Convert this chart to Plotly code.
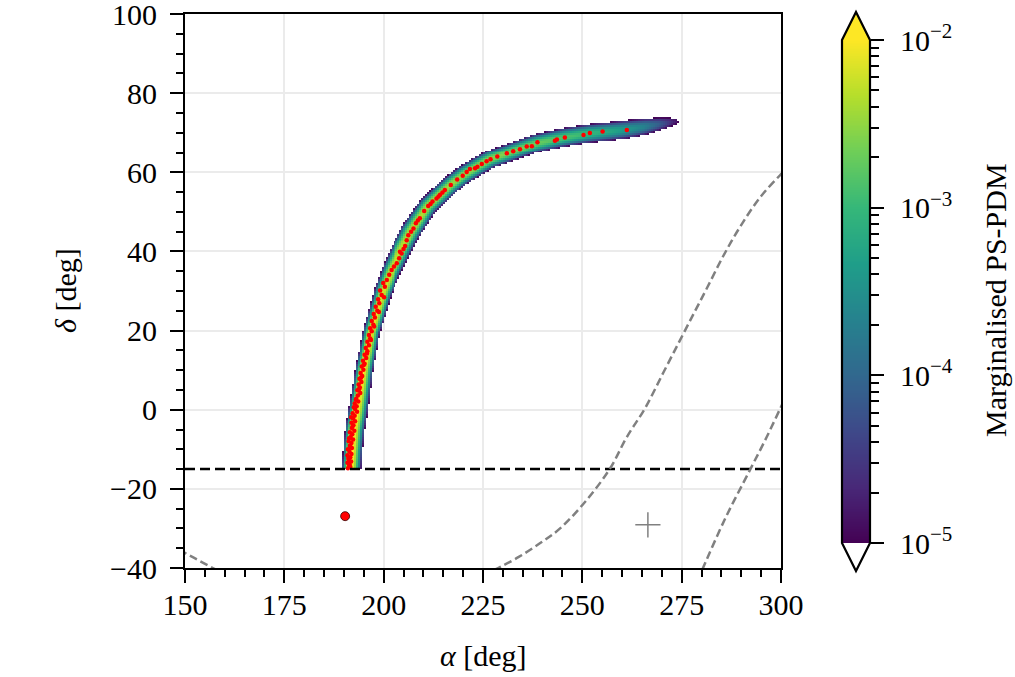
import numpy as np
import plotly.graph_objects as go

# ridge of the marginalised PS-PDM band
ridge_alpha = [191.4, 191.8, 192.3, 193.1, 194.0, 194.8, 195.9, 196.9, 198.4, 199.9,
               201.9, 204.3, 206.8, 209.1, 211.2, 214.2, 216.9, 219.9, 223.6, 226.9,
               232.6, 238.7, 245.6, 251.9, 257.0, 261.2, 266.0, 270.0, 273.5]
ridge_delta = [-15.5, -10.0, -5.0, 0.0, 5.0, 10.0, 15.0, 20.0, 25.0, 30.0,
               35.0, 40.0, 45.0, 48.4, 51.5, 54.3, 56.8, 59.1, 61.4, 63.3,
               65.3, 67.4, 68.9, 69.9, 70.4, 70.9, 71.6, 72.3, 72.9]
ridge_peak_log = [-1.9, -1.9, -1.95, -1.95, -2.0, -2.0, -2.05, -2.1, -2.15, -2.2,
                  -2.25, -2.3, -2.35, -2.35, -2.4, -2.4, -2.45, -2.5, -2.5, -2.55,
                  -2.6, -2.7, -2.85, -3.0, -3.2, -3.4, -3.7, -4.15, -4.75]
# visible half width (deg) on each side of the ridge, left/right of travel direction
ridge_hw_left = [2.0, 2.0, 2.0, 2.0, 2.0, 2.0, 2.05, 2.1, 2.2, 2.3,
                 2.45, 2.6, 2.6, 2.5, 2.4, 2.4, 2.35, 2.35, 2.35, 2.35,
                 2.35, 2.35, 2.35, 2.35, 2.35, 2.3, 2.05, 1.55, 0.8]
ridge_hw_right = [2.9, 2.9, 2.9, 2.9, 2.7, 2.5, 2.3, 2.2, 2.2, 2.3,
                  2.45, 2.6, 2.6, 2.5, 2.4, 2.4, 2.35, 2.35, 2.35, 2.35,
                  2.35, 2.35, 2.35, 2.35, 2.35, 2.3, 2.05, 1.55, 0.8]

# red sample points along the ridge
dot_alpha = [191.0, 191.6, 191.3, 190.9, 191.8, 191.2, 191.6, 190.9, 191.9, 191.4,
             191.0, 192.0, 191.5, 191.9, 191.2, 192.3, 191.7, 192.1, 191.5, 192.6,
             192.0, 192.4, 191.9, 192.8, 192.3, 192.7, 192.2, 193.3, 192.8, 193.2,
             192.7, 193.6, 193.1, 193.5, 194.1, 193.4, 194.0, 193.7, 194.4, 193.9,
             194.6, 194.2, 194.9, 194.5, 195.2, 194.8, 195.6, 195.2, 195.9, 195.5,
             196.3, 195.9, 196.6, 196.3, 197.0, 196.6, 197.4, 197.0, 197.8, 197.5,
             198.4, 198.0, 198.9, 198.6, 199.5, 199.1, 200.3, 199.9, 200.8, 201.4,
             202.0, 202.6, 203.3, 203.9, 204.5, 204.1, 205.0, 205.4, 205.8, 206.2,
             206.9, 207.5, 208.1, 208.6, 209.1, 210.2, 211.2, 211.8, 212.3, 213.3,
             213.8, 214.2, 214.8, 215.4, 216.9, 218.5, 219.9, 220.9, 221.7, 223.0,
             223.6, 224.7, 225.9, 226.9, 228.6, 231.0, 232.6, 234.3, 236.0, 237.3,
             238.7, 243.1, 243.6, 245.6, 250.3, 251.9, 255.1, 261.2,
             191.4, 191.1, 191.7, 191.3, 192.2, 191.8, 192.5, 193.0, 193.8, 194.3,
             195.0, 195.8, 196.8, 197.6, 198.8, 200.1]
dot_delta = [-14.8, -14.5, -14.0, -13.4, -13.1, -12.6, -12.0, -11.5, -11.2, -10.6,
             -10.0, -9.7, -9.1, -8.4, -8.0, -7.5, -6.9, -6.2, -5.7, -5.3,
             -4.6, -3.9, -3.3, -2.9, -2.2, -1.5, -0.9, -0.5, 0.2, 0.9,
             1.6, 2.1, 2.8, 3.6, 4.2, 4.9, 5.6, 6.4, 7.0, 7.8,
             8.5, 9.3, 10.1, 10.9, 11.6, 12.4, 13.1, 13.9, 14.8, 15.6,
             16.3, 17.2, 18.0, 18.9, 19.8, 20.6, 21.5, 22.4, 23.3, 24.2,
             25.0, 26.0, 26.9, 27.9, 29.0, 30.1, 31.1, 32.0, 32.8, 34.1,
             35.3, 36.2, 37.0, 38.3, 39.5, 39.9, 40.6, 41.4, 42.8, 44.1,
             45.0, 45.8, 47.1, 47.8, 48.4, 50.2, 51.5, 52.0, 52.6, 53.4,
             53.9, 54.3, 54.9, 55.5, 56.8, 58.2, 59.1, 60.1, 60.8, 61.0,
             61.4, 62.1, 62.8, 63.3, 64.0, 64.8, 65.3, 65.8, 66.5, 66.6,
             67.6, 68.0, 68.3, 68.8, 69.4, 69.9, 70.3, 70.7,
             -13.8, -12.2, -9.5, -7.2, -4.1, -1.9, 0.6, 2.5, 5.2, 8.1,
             11.3, 14.2, 17.6, 21.0, 24.7, 28.4]

source_alpha = [190.3]
source_delta = [-26.9]
centre_alpha = [266.5]
centre_delta = [-29.1]

threshold_delta = -15

curve1_alpha = [146.0, 150.0, 153.5, 157.0, 160.0, None,
                225.0, 228.8, 234.0, 239.4, 244.4, 251.1, 257.0, 261.2, 265.8,
                270.4, 274.6, 278.3, 281.5, 285.5, 289.7, 294.7, 299.8, 302.5]
curve1_delta = [-33.8, -36.2, -38.1, -40.0, -41.6, None,
                -41.8, -40.0, -37.2, -33.7, -30.0, -22.8, -14.8, -6.9, 0.4,
                9.4, 17.6, 24.8, 31.0, 38.9, 46.2, 53.6, 59.3, 61.9]
curve2_alpha = [279.0, 280.5, 286.0, 292.2, 296.4, 299.8, 301.5]
curve2_delta = [-43.2, -39.7, -27.4, -15.2, -6.9, 0.3, 3.9]

cbar_tick_vals = [-5, -4, -3, -2]
cbar_tick_text = ["10<sup>\u22125</sup>", "10<sup>\u22124</sup>",
                  "10<sup>\u22123</sup>", "10<sup>\u22122</sup>"]

# build the density field from the ridge description
LOG_MIN, LOG_MAX = -5.0, -2.0
ra = np.array(ridge_alpha)
rd = np.array(ridge_delta)
pk = np.array(ridge_peak_log)
depth = np.log(10.0) * (pk - LOG_MIN)
sig_l = np.array(ridge_hw_left) / np.sqrt(2 * depth)
sig_r = np.array(ridge_hw_right) / np.sqrt(2 * depth)

grid_alpha = np.arange(186.25, 280.0, 0.5)
grid_delta = np.arange(threshold_delta + 0.25, 76.0, 0.5)
A, D = np.meshgrid(grid_alpha, grid_delta)
best = np.full(A.shape, np.inf)
logz = np.full(A.shape, np.nan)
for i in range(len(ra) - 1):
    sa, sd = ra[i + 1] - ra[i], rd[i + 1] - rd[i]
    va, vd = A - ra[i], D - rd[i]
    t = np.clip((va * sa + vd * sd) / (sa * sa + sd * sd), 0, 1)
    dist2 = (va - t * sa) ** 2 + (vd - t * sd) ** 2
    cross = sa * vd - sd * va
    peak = pk[i] + t * (pk[i + 1] - pk[i])
    sl = sig_l[i] + t * (sig_l[i + 1] - sig_l[i])
    sr = sig_r[i] + t * (sig_r[i + 1] - sig_r[i])
    sig = np.where(cross > 0, sl, sr)
    val = peak - dist2 / (2 * sig ** 2 * np.log(10.0))
    upd = dist2 < best
    best = np.where(upd, dist2, best)
    logz = np.where(upd, val, logz)
logz[logz < LOG_MIN] = np.nan

FONT = "Liberation Serif"
FS = 30

fig = go.Figure()
fig.add_trace(go.Heatmap(x=grid_alpha, y=grid_delta, z=logz, colorscale="Viridis",
                         zmin=LOG_MIN, zmax=LOG_MAX, showscale=False, hoverinfo="skip"))
fig.add_trace(go.Scatter(x=dot_alpha, y=dot_delta, mode="markers",
                         marker=dict(color="red", size=4.5, line=dict(width=0)),
                         showlegend=False))
fig.add_trace(go.Scatter(x=[150, 300], y=[threshold_delta, threshold_delta], mode="lines",
                         line=dict(color="black", width=2.4, dash="10px,5px"),
                         showlegend=False))
fig.add_trace(go.Scatter(x=curve1_alpha, y=curve1_delta, mode="lines",
                         line=dict(color="#808080", width=2.5, dash="8px,4px", shape="spline"),
                         connectgaps=False, showlegend=False))
fig.add_trace(go.Scatter(x=curve2_alpha, y=curve2_delta, mode="lines",
                         line=dict(color="#808080", width=2.5, dash="8px,4px", shape="spline"),
                         showlegend=False))
fig.add_trace(go.Scatter(x=source_alpha, y=source_delta, mode="markers",
                         marker=dict(color="red", size=9, line=dict(color="#330000", width=0.8)),
                         showlegend=False))
fig.add_trace(go.Scatter(x=centre_alpha, y=centre_delta, mode="markers",
                         marker=dict(symbol="cross-thin", color="#808080", size=18,
                                     line=dict(color="#808080", width=1.5)),
                         showlegend=False))

# colour bar drawn as its own little axis
cb_levels = np.linspace(LOG_MIN, LOG_MAX, 301)
fig.add_trace(go.Heatmap(x=[0.5], y=cb_levels, z=[[v] for v in cb_levels],
                         colorscale="Viridis", zmin=LOG_MIN, zmax=LOG_MAX,
                         showscale=False, hoverinfo="skip", xaxis="x2", yaxis="y2"))

# page body margin is removed in post_script, so page pixels == figure pixels
L, T, B, R = 185, 14, 677 - 568, 135
W, H = 1015 - L - R, 677 - T - B


def paper(x, y):
    # page pixel position -> paper coordinates
    return (x - L) / W, (677 - B - y) / H


def path(points):
    pts = [paper(x, y) for x, y in points]
    return "M " + " L ".join(f"{a:.5f},{b:.5f}" for a, b in pts) + " Z"


minor_cb = [np.log10(k) + e for e in (-5, -4, -3) for k in range(2, 10)]

axis_common = dict(showline=True, linecolor="black", linewidth=2, mirror=True,
                   ticks="outside", ticklen=13, tickwidth=2, tickcolor="black",
                   showgrid=True, gridcolor="#ebebeb", gridwidth=1.5, zeroline=False,
                   automargin=False, ticklabeloverflow="allow",
                   tickfont=dict(family=FONT, size=FS, color="black"))

fig.update_layout(
    width=1015, height=677,
    margin=dict(l=L, r=R, t=T, b=B, autoexpand=False),
    paper_bgcolor="white", plot_bgcolor="white",
    font=dict(family=FONT, size=FS, color="black"),
    xaxis=dict(range=[150, 300], domain=[0, 596 / W], tickvals=list(range(150, 301, 25)),
               minor=dict(dtick=5, tick0=0, ticks="outside", ticklen=7, tickwidth=1.5,
                          tickcolor="black", showgrid=False),
               ticklabelstandoff=-4, **axis_common),
    yaxis=dict(range=[-40, 100], domain=[0, 1], tickvals=list(range(-40, 101, 20)),
               minor=dict(dtick=5, tick0=0, ticks="outside", ticklen=7, tickwidth=1.5,
                          tickcolor="black", showgrid=False),
               ticklabelstandoff=7, **axis_common),
    xaxis2=dict(domain=[paper(842, 0)[0], paper(870, 0)[0]], range=[0, 1], visible=False,
                anchor="y2", fixedrange=True),
    yaxis2=dict(domain=[paper(0, 543)[1], paper(0, 40)[1]], range=[LOG_MIN, LOG_MAX],
                anchor="x2", side="right", showline=False, showgrid=False, zeroline=False,
                automargin=False, ticklabeloverflow="allow",
                ticks="outside", ticklen=13, tickwidth=2, tickcolor="black",
                tickvals=cbar_tick_vals, ticktext=cbar_tick_text, ticklabelstandoff=10,
                tickfont=dict(family=FONT, size=FS, color="black"),
                minor=dict(tickmode="array", tickvals=minor_cb, ticks="outside",
                           ticklen=8, tickwidth=1.5, tickcolor="black", showgrid=False)),
    shapes=[
        dict(type="path", xref="paper", yref="paper",
             path=path([(842, 40), (856, 12), (870, 40)]),
             fillcolor="#fde725", line=dict(width=0)),
        dict(type="path", xref="paper", yref="paper",
             path=path([(842, 543), (870, 543), (856, 571)]),
             fillcolor="white", line=dict(width=0)),
        dict(type="path", xref="paper", yref="paper",
             path=path([(842, 40), (856, 12), (870, 40), (870, 543), (856, 571), (842, 543)]),
             line=dict(color="black", width=2.2), layer="above"),
    ],
    annotations=[
        dict(text="<i>α</i> [deg]", xref="paper", yref="paper",
             x=paper(483, 0)[0], y=paper(0, 655)[1], showarrow=False,
             xanchor="center", yanchor="middle", font=dict(family=FONT, size=FS)),
        dict(text="<i>δ</i> [deg]", xref="paper", yref="paper", textangle=-90,
             x=paper(65, 0)[0], y=paper(0, 291)[1], showarrow=False,
             xanchor="center", yanchor="middle", font=dict(family=FONT, size=FS)),
        dict(text="Marginalised PS-PDM", xref="paper", yref="paper", textangle=-90,
             x=paper(995, 0)[0], y=paper(0, 300)[1], showarrow=False,
             xanchor="center", yanchor="middle", font=dict(family=FONT, size=FS)),
    ],
)

fig.write_html("out.html", config={"displayModeBar": False},
               post_script="document.body.style.margin = '0';")
